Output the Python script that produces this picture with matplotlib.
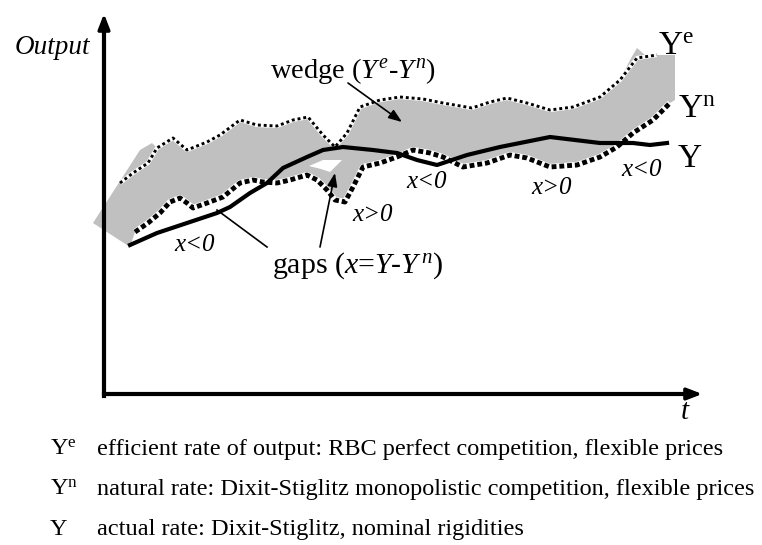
import matplotlib
matplotlib.use("Agg")
import matplotlib.pyplot as plt
from matplotlib.patches import Polygon

plt.rcParams['font.family'] = ['Liberation Serif', 'DejaVu Serif']
plt.rcParams['mathtext.fontset'] = 'custom'
plt.rcParams['mathtext.rm'] = 'Liberation Serif'
plt.rcParams['mathtext.it'] = 'Liberation Serif:italic'

# ---- data (t = time, out = output level) ----
ye_t = [16, 29, 44, 53, 69, 83, 103, 116, 136, 153, 173, 189, 204, 219, 231, 243, 256, 276,
        296, 319, 339, 368, 386, 403, 423, 446, 469, 496, 516, 533, 553]
ye_out = [211, 221, 231, 246, 256, 244, 252, 259, 274, 269, 268, 274, 277, 259, 247, 261, 287, 294,
          297, 295, 291, 286, 292, 296, 291, 284, 287, 297, 314, 336, 339]

yn_t = [31, 44, 56, 66, 76, 83, 89, 103, 119, 136, 149, 159, 173, 186, 203, 213, 223, 231, 241,
        249, 259, 276, 293, 309, 326, 339, 359, 383, 406, 423, 446, 473, 496, 513, 529, 549, 566]
yn_out = [162, 171, 181, 192, 196, 191, 186, 191, 197, 211, 214, 212, 211, 214, 219, 214, 204, 194, 192,
          207, 227, 231, 237, 244, 241, 237, 227, 231, 239, 236, 227, 229, 237, 247, 261, 274, 291]

y_t = [26, 53, 86, 113, 126, 146, 163, 179, 203, 219, 239, 269, 293, 313, 333, 363, 396, 446,
       496, 529, 546, 563]
y_out = [149, 161, 172, 181, 187, 201, 211, 226, 237, 244, 247, 244, 241, 234, 229, 239, 247, 257,
         251, 251, 249, 251]

# extra outline of the shaded wedge beyond the curves
wedge_left_t = [-11, 36, 48]
wedge_left_out = [171, 244, 251]
wedge_right_t = [526, 533, 541, 571, 571]
wedge_right_out = [334, 346, 339, 339, 294]
wedge_bottom_t = [26]
wedge_bottom_out = [147]
notch_t = [205, 219, 238, 226, 217]
notch_out = [228, 234, 234, 222, 225]

gap_labels = ["x<0", "x>0", "x<0", "x>0", "x<0"]
gap_label_t = [91, 269, 323, 448, 538]
gap_label_out = [149, 179, 212, 206, 224]

legend_symbols = [r"$\mathrm{Y^{e}}$", r"$\mathrm{Y^{n}}$", "Y"]
legend_texts = ["efficient rate of output: RBC perfect competition, flexible prices",
                "natural rate: Dixit-Stiglitz monopolistic competition, flexible prices",
                "actual rate: Dixit-Stiglitz, nominal rigidities"]

W, H = 762, 545
fig = plt.figure(figsize=(W / 100, H / 100), dpi=100)
ax = fig.add_axes([0, 0, 1, 1])
ax.set_xlim(-104, 658)
ax.set_ylim(-151, 394)
ax.axis('off')

# shaded wedge
top_pts = list(zip(wedge_left_t, wedge_left_out)) + [(t, o) for t, o in zip(ye_t, ye_out) if 53 <= t <= 516]
right_pts = list(zip(wedge_right_t, wedge_right_out))
bot_pts = list(zip(yn_t, yn_out))[::-1] + list(zip(wedge_bottom_t, wedge_bottom_out))
poly = Polygon(top_pts + right_pts + bot_pts, closed=True, facecolor='#c0c0c0', edgecolor='none', zorder=1)
ax.add_patch(poly)
ax.add_patch(Polygon(list(zip(notch_t, notch_out)), closed=True, facecolor='white', edgecolor='none', zorder=1.5))

# curves
ax.plot(ye_t, ye_out, color='white', lw=3.0, zorder=2, solid_capstyle='butt')
ax.plot(ye_t, ye_out, color='black', lw=2.1, linestyle=(0, (1, 1)), dash_capstyle='butt', zorder=3)
ax.plot(yn_t, yn_out, color='white', lw=4.4, zorder=2, solid_capstyle='butt')
ax.plot(yn_t, yn_out, color='black', lw=3.5, linestyle=(0, (1, 0.6)), dash_capstyle='butt', zorder=3)
ax.plot(y_t, y_out, color='black', lw=3.0, solid_joinstyle='round', zorder=4)

# axes arrows
ax.plot([0, 0], [-2, 372], color='black', lw=3.0, solid_capstyle='projecting', zorder=5)
ax.plot([0, 590], [0, 0], color='black', lw=3.0, solid_capstyle='projecting', zorder=5)
ax.annotate('', xy=(0, 383), xytext=(0, 365),
            arrowprops=dict(arrowstyle='-|>,head_length=0.9,head_width=0.35', color='black', lw=2.5), zorder=5)
ax.annotate('', xy=(601, 0), xytext=(583, 0),
            arrowprops=dict(arrowstyle='-|>,head_length=0.9,head_width=0.35', color='black', lw=2.5), zorder=5)

ax.text(-52, 347, "Output", fontsize=19.5, fontstyle='italic', ha='center', va='center')
ax.text(581, -18, "t", fontsize=21, fontstyle='italic', ha='center', va='center')

# annotations
ax.text(166, 316, r"wedge $\mathit{(Y^{e}}$-$\mathit{Y^{n})}$", fontsize=20.5, ha='left', va='baseline')
ax.annotate('', xy=(298, 272), xytext=(244, 311),
            arrowprops=dict(arrowstyle='-|>,head_length=0.8,head_width=0.3', color='black', lw=1.2,
                            shrinkA=0, shrinkB=0), zorder=6)
ax.text(168, 121, r"gaps $\mathit{(x}$=$\mathit{Y}$-$\mathit{Y\,^{n})}$", fontsize=21.5, ha='left', va='baseline')
ax.plot([163, 113], [147, 184], color='black', lw=1.2, zorder=6)
ax.annotate('', xy=(231, 221), xytext=(216, 147),
            arrowprops=dict(arrowstyle='-|>,head_length=0.8,head_width=0.3', color='black', lw=1.2,
                            shrinkA=0, shrinkB=0), zorder=6)

for lab, t, o in zip(gap_labels, gap_label_t, gap_label_out):
    ax.text(t, o, lab, fontsize=18, fontstyle='italic', ha='center', va='center', zorder=7)

ax.text(554, 339, r"$\mathrm{Y^{e}}$", fontsize=24, ha='left', va='baseline')
ax.text(574, 276, r"$\mathrm{Y^{n}}$", fontsize=24, ha='left', va='baseline')
ax.text(574, 227, "Y", fontsize=24, ha='left', va='baseline')

# bottom legend
for i, (sym, txt) in enumerate(zip(legend_symbols, legend_texts)):
    base = -61 - 40 * i
    ax.text(-54, base, sym, fontsize=17.5, ha='left', va='baseline')
    ax.text(-7, base, txt, fontsize=17.5, ha='left', va='baseline')

fig.savefig("out.png", dpi=100)
